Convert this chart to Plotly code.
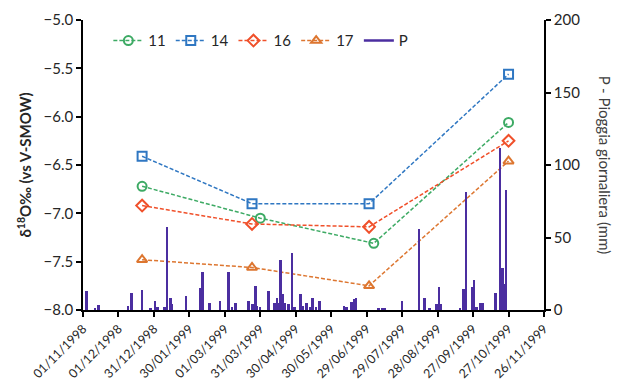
import plotly.graph_objects as go

# Isotope samples (δ18O ‰ vs V-SMOW) per collection point
dates_11 = ["1998-12-21", "1999-03-31", "1999-07-05", "1999-10-27"]
d18o_11 = [-6.72, -7.05, -7.31, -6.06]

dates_14 = ["1998-12-21", "1999-03-24", "1999-07-01", "1999-10-27"]
d18o_14 = [-6.41, -6.90, -6.90, -5.56]

dates_16 = ["1998-12-21", "1999-03-24", "1999-07-01", "1999-10-27"]
d18o_16 = [-6.92, -7.11, -7.14, -6.25]

dates_17 = ["1998-12-21", "1999-03-24", "1999-07-01", "1999-10-27"]
d18o_17 = [-7.48, -7.56, -7.75, -6.46]

# Daily rainfall (mm)
rain_dates = [
    "1998-11-04", "1998-11-11", "1998-11-14", "1998-12-09", "1998-12-12",
    "1998-12-21", "1998-12-28", "1999-01-01", "1999-01-03", "1999-01-09",
    "1999-01-11", "1999-01-14", "1999-01-15", "1999-01-27", "1999-02-08",
    "1999-02-10", "1999-02-16", "1999-02-25", "1999-03-04", "1999-03-07",
    "1999-03-10", "1999-03-21", "1999-03-24", "1999-03-25", "1999-03-27",
    "1999-03-28", "1999-03-31", "1999-04-07", "1999-04-12", "1999-04-14",
    "1999-04-15", "1999-04-17", "1999-04-19", "1999-04-21", "1999-04-24",
    "1999-04-27", "1999-04-29", "1999-05-04", "1999-05-06", "1999-05-09",
    "1999-05-12", "1999-05-14", "1999-05-17", "1999-05-20", "1999-06-10",
    "1999-06-12", "1999-06-16", "1999-06-18", "1999-06-20", "1999-07-09",
    "1999-07-12", "1999-07-14", "1999-07-29", "1999-08-12", "1999-08-17",
    "1999-08-21", "1999-08-27", "1999-08-29", "1999-08-31", "1999-09-16",
    "1999-09-19", "1999-09-21", "1999-09-26", "1999-09-28", "1999-09-30",
    "1999-10-03", "1999-10-05", "1999-10-16", "1999-10-20", "1999-10-21",
    "1999-10-22", "1999-10-23", "1999-10-25",
]
rain_mm = [
    13, 1, 3.5, 3, 11.5,
    14, 1, 6, 2, 2,
    57, 8, 4, 10, 15,
    26, 4.6, 6.4, 26.4, 2,
    4.6, 6, 4, 4, 16.7,
    3, 2, 13, 5, 8,
    4.5, 34.5, 11, 5, 4,
    39, 2, 11, 3, 5,
    2, 8.5, 2, 6, 3,
    2, 5.7, 7.6, 8, 1,
    1, 1, 6.4, 55.6, 8.5,
    1, 4, 16, 4, 1,
    14.5, 81.6, 16, 21, 2,
    5, 5, 11.5, 112, 20,
    29, 18, 83,
]

# Date axis ticks
tick_dates = [
    "1998-11-01", "1998-12-01", "1998-12-31", "1999-01-30", "1999-03-01",
    "1999-03-31", "1999-04-30", "1999-05-30", "1999-06-29", "1999-07-29",
    "1999-08-28", "1999-09-27", "1999-10-27", "1999-11-26",
]
tick_labels = [
    "01/11/1998", "01/12/1998", "31/12/1998", "30/01/1999", "01/03/1999",
    "31/03/1999", "30/04/1999", "30/05/1999", "29/06/1999", "29/07/1999",
    "28/08/1999", "27/09/1999", "27/10/1999", "26/11/1999",
]

FONT = "Lato, Open Sans, sans-serif"
TXT = "#262626"
RAIN_COLOR = "#4B2EA0"
DAY_MS = 86400000

fig = go.Figure()

fig.add_trace(go.Bar(
    x=rain_dates, y=rain_mm, yaxis="y2", name="P",
    marker=dict(color=RAIN_COLOR, line=dict(width=0)),
    width=2.0 * DAY_MS, showlegend=False,
))

series = [
    ("11", dates_11, d18o_11, "#3DAA64", "circle-open"),
    ("14", dates_14, d18o_14, "#2F77C2", "square-open"),
    ("16", dates_16, d18o_16, "#F0502A", "diamond-open"),
    ("17", dates_17, d18o_17, "#DD7630", "triangle-up-open"),
]
for name, xs, ys, color, sym in series:
    fig.add_trace(go.Scatter(
        x=xs, y=ys, name=name, mode="lines+markers",
        line=dict(color=color, width=1.5, dash="4px,2px"),
        marker=dict(symbol=sym, size=9, color=color, line=dict(color=color, width=2)),
    ))

# Legend entry for the rainfall bars, drawn as a line
fig.add_trace(go.Scatter(
    x=[None], y=[None], name="P", mode="lines",
    line=dict(color=RAIN_COLOR, width=2.5), yaxis="y2",
))

fig.update_layout(
    width=624, height=381,
    margin=dict(l=83, r=80, t=20, b=71),
    paper_bgcolor="white", plot_bgcolor="white",
    font=dict(family=FONT, size=14, color=TXT),
    bargap=0,
    showlegend=True,
    legend=dict(
        orientation="h", x=0.055, y=0.985, xanchor="left", yanchor="top",
        font=dict(size=15, color=TXT), bgcolor="rgba(0,0,0,0)",
        itemwidth=30, tracegroupgap=0,
    ),
    xaxis=dict(
        type="date", range=["1998-11-01", "1999-11-26"], automargin=False,
        tickmode="array", tickvals=tick_dates, ticktext=tick_labels,
        tickangle=-45, tickfont=dict(size=12.5, color=TXT),
        showgrid=False, zeroline=False,
        showline=True, linecolor="black", linewidth=1.5,
        ticks="outside", ticklen=5, tickcolor="black", tickwidth=1.5,
    ),
    yaxis=dict(
        range=[-8, -5], dtick=0.5, tickformat=".1f", automargin=False,
        tickfont=dict(size=15, color=TXT),
        showgrid=False, zeroline=False,
        showline=True, linecolor="black", linewidth=1.5,
        ticks="outside", ticklen=5, tickcolor="black", tickwidth=1.5,
        title=dict(text="<b>δ<sup>18</sup>O‰ (vs V-SMOW)</b>", font=dict(size=15, color=TXT), standoff=8),
    ),
    yaxis2=dict(
        range=[0, 200], dtick=50, overlaying="y", side="right", automargin=False,
        tickfont=dict(size=15, color=TXT),
        showgrid=False, zeroline=False,
        showline=True, linecolor="black", linewidth=1.5,
        ticks="outside", ticklen=5, tickcolor="black", tickwidth=1.5,
    ),
    annotations=[dict(
        text="P - Pioggia giornaliera (mm)", textangle=90,
        xref="paper", yref="paper", x=1.133, y=0.5,
        xanchor="center", yanchor="middle", showarrow=False,
        font=dict(size=15, color="#404040"),
    )],
)

fig.write_html("out.html")
